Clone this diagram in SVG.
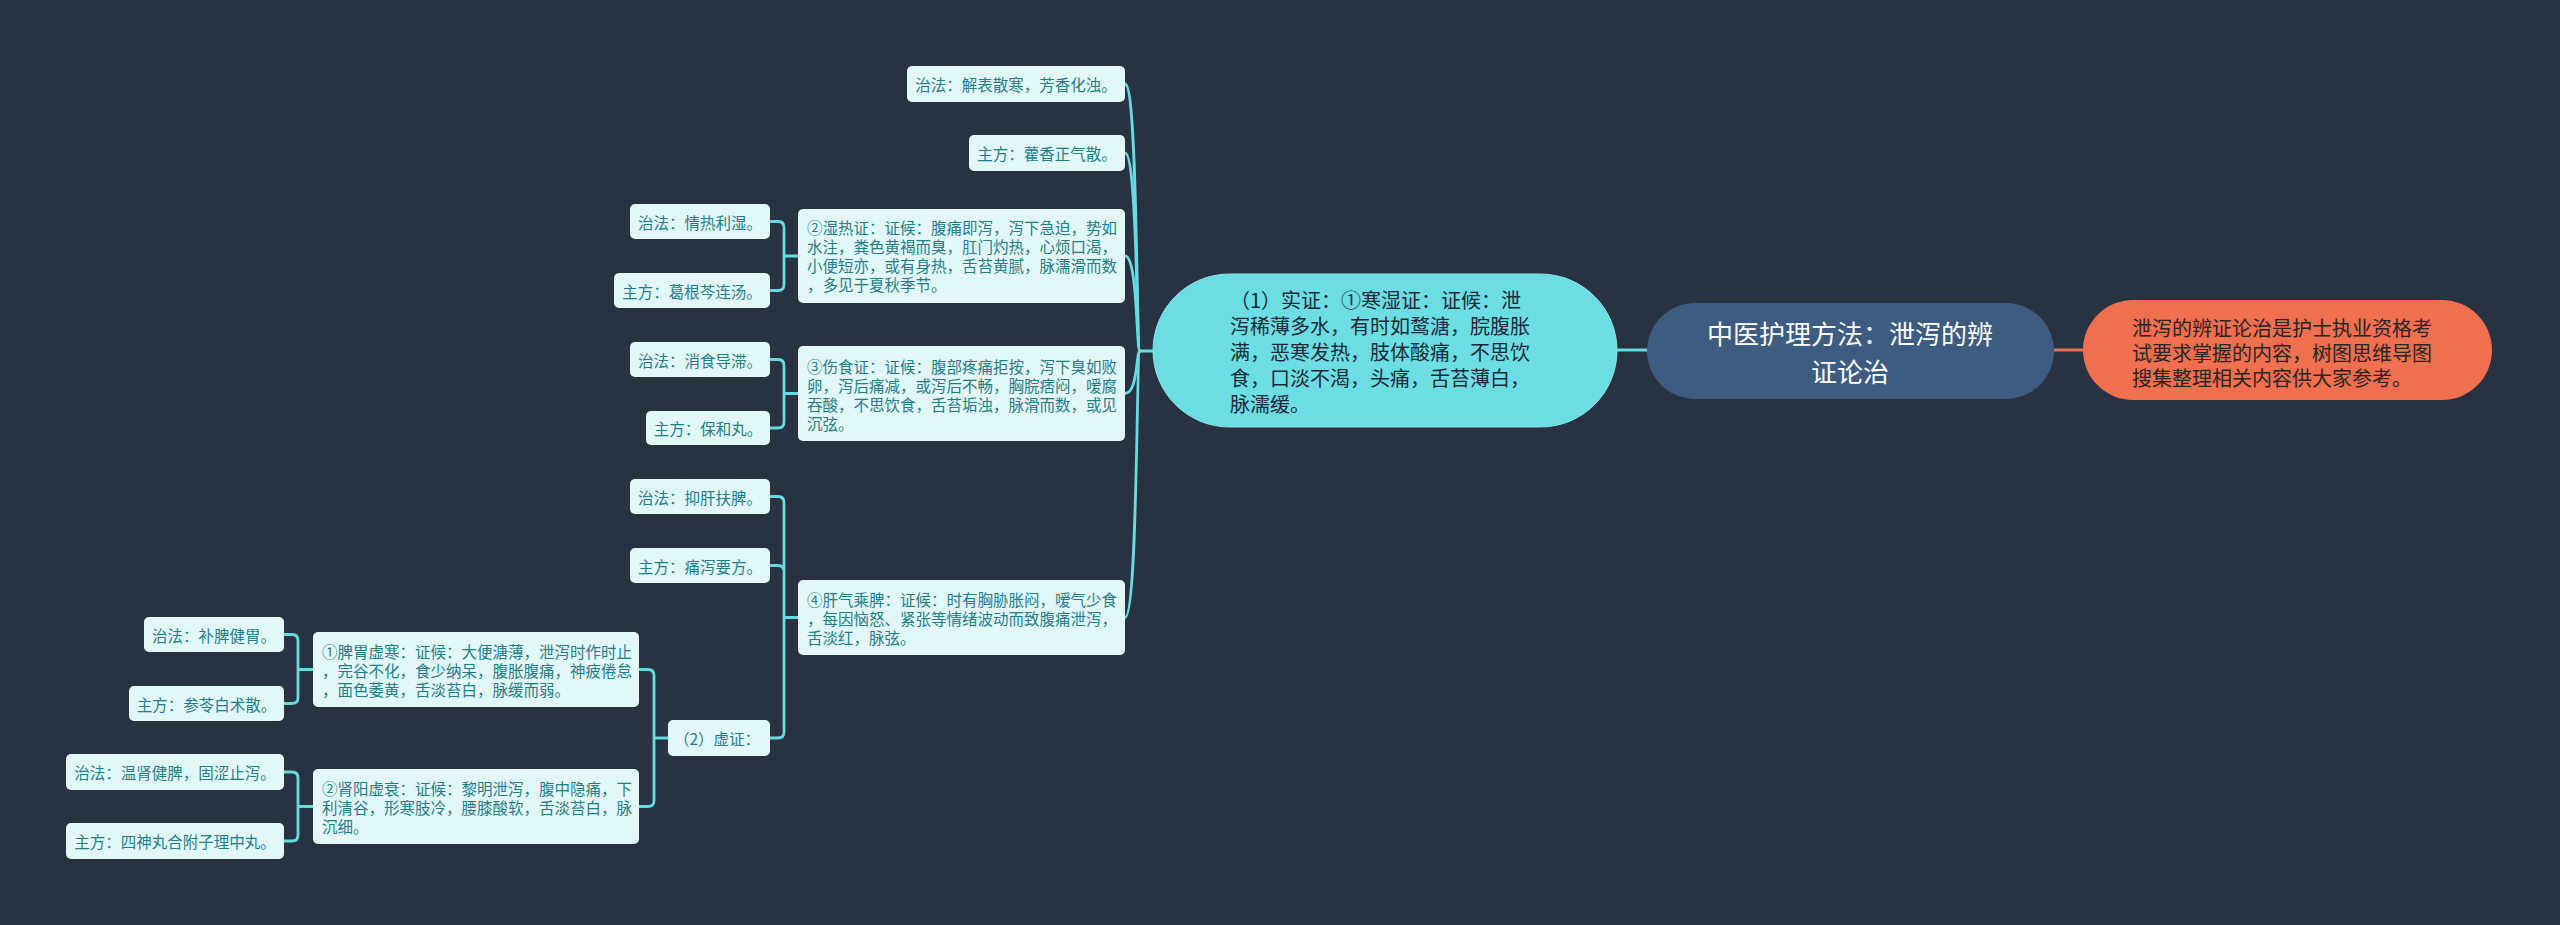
<svg xmlns="http://www.w3.org/2000/svg" width="2560" height="925" viewBox="0 0 2560 925">
<style>
text{font-family:"Noto Sans CJK SC","Noto Sans",sans-serif;dominant-baseline:central}
.bx{fill:#e2f7f8}
.t{font-size:15.5px;fill:#1f7e88}
.c{text-anchor:middle}
.ln{fill:none;stroke:#67dbe2;stroke-width:2.8;stroke-linecap:round}
.sz{fill:#6bdde3;stroke:#86e6ea;stroke-width:1}
.szt{font-size:20px;fill:#1e2a38}
</style>
<rect width="2560" height="925" fill="#293241"/>

<g id="connectors">
  <path d="M2054 350 H2083" fill="none" stroke="#e8704f" stroke-width="3"/>
  <path class="ln" d="M1617 350 H1647"/>
  <path class="ln" d="M1153 351 H1140"/>
  <path class="ln" d="M1140 351 C1136 351 1138 84 1125 84"/>
  <path class="ln" d="M1140 351 C1136 351 1138 153 1125 153"/>
  <path class="ln" d="M1140 351 C1136 351 1138 256 1125 256"/>
  <path class="ln" d="M1140 351 C1136 351 1138 393.5 1125 393.5"/>
  <path class="ln" d="M1140 351 C1136 351 1138 617.5 1125 617.5"/>
  <path class="ln" d="M798 256 H784 M784 256 V227.5 Q784 221.5 778 221.5 H770 M784 256 V284.5 Q784 290.5 778 290.5 H770"/>
  <path class="ln" d="M798 393.5 H784 M784 393.5 V365.5 Q784 359.5 778 359.5 H770 M784 393.5 V422 Q784 428 778 428 H770"/>
  <path class="ln" d="M798 617.5 H784 M784 617.5 V502.5 Q784 496.5 778 496.5 H770 M784 617.5 V571.5 Q784 565.5 778 565.5 H770 M784 617.5 V732 Q784 738 778 738 H770"/>
  <path class="ln" d="M668 738 H654 M654 738 V675.5 Q654 669.5 648 669.5 H639 M654 738 V800.5 Q654 806.5 648 806.5 H639"/>
  <path class="ln" d="M313 669.5 H298 M298 669.5 V640.5 Q298 634.5 292 634.5 H284 M298 669.5 V697.5 Q298 703.5 292 703.5 H284"/>
  <path class="ln" d="M313 806.5 H298 M298 806.5 V778 Q298 772 292 772 H284 M298 806.5 V835 Q298 841 292 841 H284"/>
</g>

<g id="root">
  <rect x="1647" y="303" width="407" height="96" rx="48" fill="#3e5b80"/>
  <text x="1850" y="332" font-size="26" fill="#ffffff" text-anchor="middle">中医护理方法：泄泻的辨</text>
  <text x="1850" y="370" font-size="26" fill="#ffffff" text-anchor="middle">证论治</text>
</g>

<g id="summary">
  <rect x="2083" y="300" width="409" height="100" rx="50" fill="#ef6f4f"/>
  <text x="2132" y="327" font-size="20" fill="#2b2424">泄泻的辨证论治是护士执业资格考</text>
  <text x="2132" y="352" font-size="20" fill="#2b2424">试要求掌握的内容，树图思维导图</text>
  <text x="2132" y="377" font-size="20" fill="#2b2424">搜集整理相关内容供大家参考。</text>
</g>

<g id="shizheng">
  <rect class="sz" x="1153" y="274" width="464" height="153" rx="76.5"/>
  <text class="szt" x="1230" y="299">（1）实证：①寒湿证：证候：泄</text>
  <text class="szt" x="1230" y="325">泻稀薄多水，有时如鹜溏，脘腹胀</text>
  <text class="szt" x="1230" y="351">满，恶寒发热，肢体酸痛，不思饮</text>
  <text class="szt" x="1230" y="377">食，口淡不渴，头痛，舌苔薄白，</text>
  <text class="szt" x="1230" y="403">脉濡缓。</text>
</g>

<g id="n-zf1">
  <rect class="bx" x="907" y="66" width="218" height="36" rx="5"/>
  <text class="t c" x="1016" y="84">治法：解表散寒，芳香化浊。</text>
</g>
<g id="n-zf2">
  <rect class="bx" x="969" y="135" width="156" height="36" rx="5"/>
  <text class="t c" x="1047" y="153">主方：藿香正气散。</text>
</g>

<g id="n-shire">
  <rect class="bx" x="798" y="209" width="327" height="94" rx="5"/>
  <text class="t" x="807" y="227">②湿热证：证候：腹痛即泻，泻下急迫，势如</text>
  <text class="t" x="807" y="246">水注，粪色黄褐而臭，肛门灼热，心烦口渴，</text>
  <text class="t" x="807" y="265">小便短亦，或有身热，舌苔黄腻，脉濡滑而数</text>
  <text class="t" x="807" y="284">，多见于夏秋季节。</text>
</g>
<g id="n-shire-zf">
  <rect class="bx" x="630" y="204" width="140" height="35" rx="5"/>
  <text class="t c" x="700" y="221.5">治法：情热利湿。</text>
</g>
<g id="n-shire-ff">
  <rect class="bx" x="614" y="273" width="156" height="35" rx="5"/>
  <text class="t c" x="692" y="290.5">主方：葛根芩连汤。</text>
</g>

<g id="n-shangshi">
  <rect class="bx" x="798" y="346" width="327" height="95" rx="5"/>
  <text class="t" x="807" y="366">③伤食证：证候：腹部疼痛拒按，泻下臭如败</text>
  <text class="t" x="807" y="385">卵，泻后痛减，或泻后不畅，胸脘痞闷，嗳腐</text>
  <text class="t" x="807" y="404">吞酸，不思饮食，舌苔垢浊，脉滑而数，或见</text>
  <text class="t" x="807" y="423">沉弦。</text>
</g>
<g id="n-shangshi-zf">
  <rect class="bx" x="630" y="342" width="140" height="35" rx="5"/>
  <text class="t c" x="700" y="359.5">治法：消食导滞。</text>
</g>
<g id="n-shangshi-ff">
  <rect class="bx" x="646" y="411" width="124" height="34" rx="5"/>
  <text class="t c" x="708" y="428">主方：保和丸。</text>
</g>

<g id="n-ganqi">
  <rect class="bx" x="798" y="580" width="327" height="75" rx="5"/>
  <text class="t" x="807" y="599">④肝气乘脾：证候：时有胸胁胀闷，嗳气少食</text>
  <text class="t" x="807" y="618">，每因恼怒、紧张等情绪波动而致腹痛泄泻，</text>
  <text class="t" x="807" y="637">舌淡红，脉弦。</text>
</g>
<g id="n-ganqi-zf">
  <rect class="bx" x="630" y="479" width="140" height="35" rx="5"/>
  <text class="t c" x="700" y="496.5">治法：抑肝扶脾。</text>
</g>
<g id="n-ganqi-ff">
  <rect class="bx" x="630" y="548" width="140" height="35" rx="5"/>
  <text class="t c" x="700" y="565.5">主方：痛泻要方。</text>
</g>

<g id="n-xuzheng">
  <rect class="bx" x="668" y="720" width="102" height="36" rx="5"/>
  <text class="t c" x="717" y="738">（2）虚证：</text>
</g>

<g id="n-piwei">
  <rect class="bx" x="313" y="632" width="326" height="75" rx="5"/>
  <text class="t" x="322" y="651">①脾胃虚寒：证候：大便溏薄，泄泻时作时止</text>
  <text class="t" x="322" y="670">，完谷不化，食少纳呆，腹胀腹痛，神疲倦怠</text>
  <text class="t" x="322" y="689">，面色萎黄，舌淡苔白，脉缓而弱。</text>
</g>
<g id="n-piwei-zf">
  <rect class="bx" x="144" y="617" width="140" height="35" rx="5"/>
  <text class="t c" x="214" y="634.5">治法：补脾健胃。</text>
</g>
<g id="n-piwei-ff">
  <rect class="bx" x="129" y="686" width="155" height="35" rx="5"/>
  <text class="t c" x="206.5" y="703.5">主方：参苓白术散。</text>
</g>

<g id="n-shenyang">
  <rect class="bx" x="313" y="769" width="326" height="75" rx="5"/>
  <text class="t" x="322" y="788">②肾阳虚衰：证候：黎明泄泻，腹中隐痛，下</text>
  <text class="t" x="322" y="807">利清谷，形寒肢冷，腰膝酸软，舌淡苔白，脉</text>
  <text class="t" x="322" y="826">沉细。</text>
</g>
<g id="n-shenyang-zf">
  <rect class="bx" x="66" y="754" width="218" height="36" rx="5"/>
  <text class="t c" x="175" y="772">治法：温肾健脾，固涩止泻。</text>
</g>
<g id="n-shenyang-ff">
  <rect class="bx" x="66" y="823" width="218" height="36" rx="5"/>
  <text class="t c" x="175" y="841">主方：四神丸合附子理中丸。</text>
</g>
</svg>
